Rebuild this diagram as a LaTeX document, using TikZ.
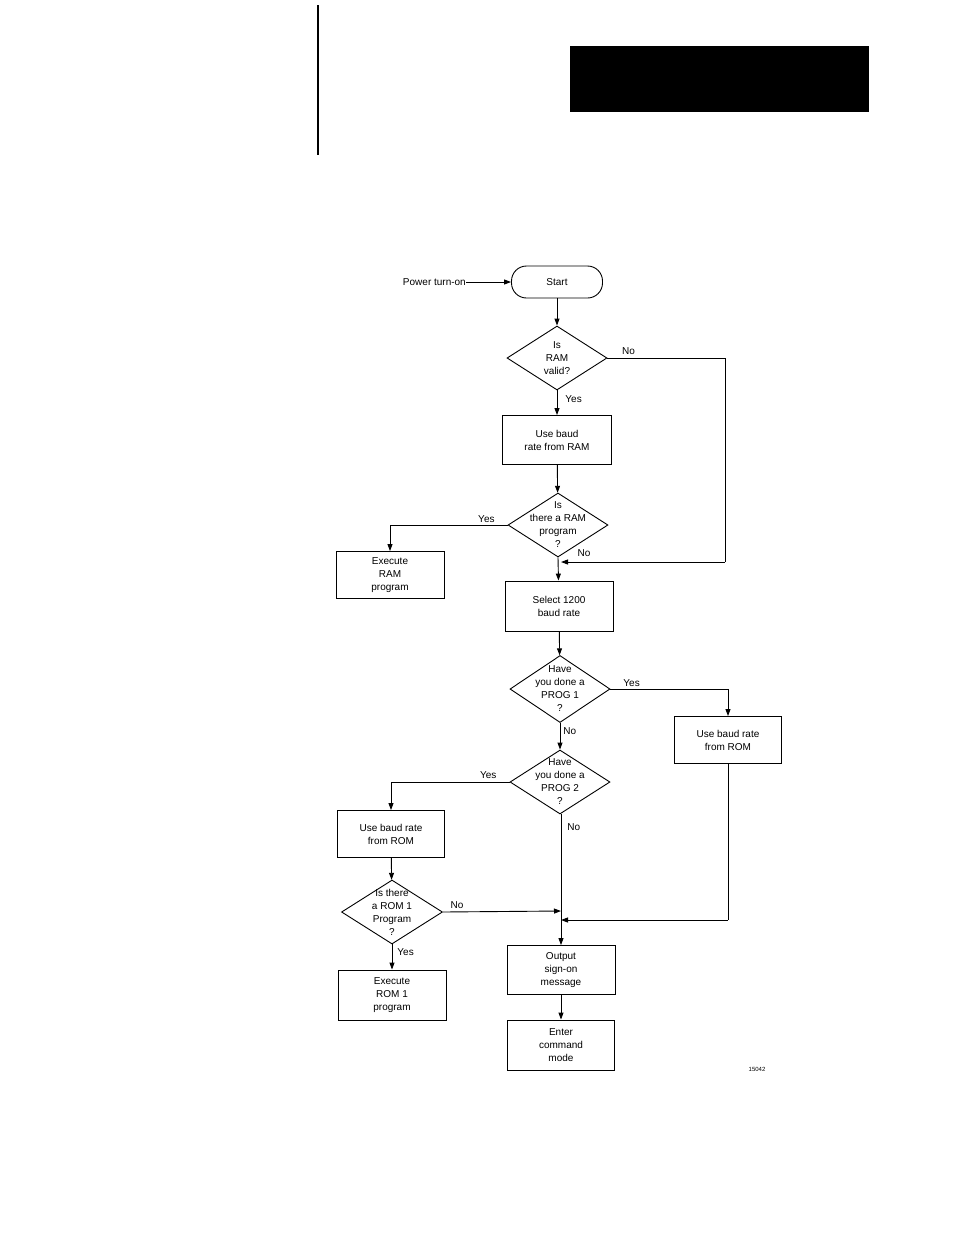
\documentclass[tikz,border=0pt]{standalone}
\usepackage{fontspec}
\setmainfont{Liberation Sans}
\usetikzlibrary{shapes.geometric,arrows.meta}
\begin{document}
\begin{tikzpicture}[x=1pt,y=-1pt,
  every node/.style={font=\fontsize{10}{13}\selectfont},
  box/.style={draw,line width=0.9pt,minimum width=#1,inner sep=0pt,align=center},
  dia/.style={draw,line width=0.9pt,diamond,inner sep=0pt,minimum width=100pt,minimum height=64pt},
  txt/.style={align=center,inner sep=0pt},
  lbl/.style={inner sep=0pt},
  ln/.style={line width=0.9pt},
  ar/.style={line width=0.9pt,-{Triangle[length=7pt,width=5pt]}}]
\useasboundingbox (0,0) rectangle (954,1235);
\draw[line width=2pt] (318,5) -- (318,155);
\fill (570,46) rectangle (869,112);
% nodes
\node[draw,line width=0.9pt,rounded corners=15pt,minimum width=91pt,minimum height=32pt] (start) at (557,282) {Start};
\node[lbl,anchor=east] (power) at (466,282) {Power turn-on};
\node[dia] (d1) at (557,358) {};
\node[txt] at (d1) {Is\\RAM\\valid?};
\node[box=109pt,minimum height=49pt] (b1) at (557,440) {Use baud\\rate from RAM};
\node[dia] (d2) at (558,525) {};
\node[txt] at (d2) {Is\\there a RAM\\program\\?};
\node[box=108pt,minimum height=47pt] (xram) at (390,575) {Execute\\RAM\\program};
\node[box=108pt,minimum height=50pt] (sel) at (559,606) {Select 1200\\baud rate};
\node[dia,minimum height=67pt] (d3) at (560,689) {};
\node[txt] at (d3) {Have\\you done a\\PROG 1\\?};
\node[box=107pt,minimum height=47pt] (rr) at (728,740) {Use baud rate\\from ROM};
\node[dia] (d4) at (560,782) {};
\node[txt] at (d4) {Have\\you done a\\PROG 2\\?};
\node[box=107pt,minimum height=47pt] (rl) at (391,834) {Use baud rate\\from ROM};
\node[dia,minimum width=101pt] (d5) at (392,912) {};
\node[txt] at (d5) {Is there\\a ROM 1\\Program\\?};
\node[box=108pt,minimum height=50pt] (xrom) at (392,995) {Execute\\ROM 1\\program};
\node[box=108pt,minimum height=49pt] (out) at (561,970) {Output\\sign-on\\message};
\node[box=107pt,minimum height=50pt] (ent) at (561,1045) {Enter\\command\\mode};
\node[lbl,font=\fontsize{6}{7}\selectfont] at (757,1069) {15042};
\coordinate (j1) at (561,562);
\coordinate (j2) at (561,911);
\coordinate (j3) at (561,920);
% connectors
\draw[ar] (power) -- (start);
\draw[ar] (start) -- (d1);
\draw[ar] (d1) -- node[lbl,right,pos=0.35,xshift=8pt]{Yes} (b1);
\draw[ar] (b1) -- (d2);
\draw[ln] (d1.east) -- node[lbl,above,pos=0.18,yshift=3pt]{No} (725,358) -- (725,562);
\draw[ar] (725,562) -- (j1);
\draw[ar] (d2.south) -- (sel);
\node[lbl] at (584,553) {No};
\draw[ar] (d2.west) -- node[lbl,above,pos=0.18,yshift=2pt]{Yes} (xram.north |- d2.west) -- (xram);
\draw[ar] (sel) -- (d3);
\draw[ar] (d3.east) -- node[lbl,above,pos=0.18,yshift=2pt]{Yes} (rr.north |- d3.east) -- (rr);
\draw[ar] (d3) -- node[lbl,right,pos=0.3,xshift=3pt]{No} (d4);
\draw[ar] (d4.west) -- node[lbl,above,pos=0.18,yshift=3pt]{Yes} (rl.north |- d4.west) -- (rl);
\draw[ar] (d4.south -| out.north) -- node[lbl,right,pos=0.1,xshift=6pt]{No} (out);
\draw[ar] (rl) -- (d5);
\draw[ar] (d5.east) -- node[lbl,above,pos=0.12,yshift=3pt]{No} (j2);
\draw[ar] (d5) -- node[lbl,right,pos=0.3,xshift=5pt]{Yes} (xrom);
\draw[ln] (rr.south) -- (728,920);
\draw[ar] (728,920) -- (j3);
\draw[ar] (out) -- (ent);
\end{tikzpicture}
\end{document}
